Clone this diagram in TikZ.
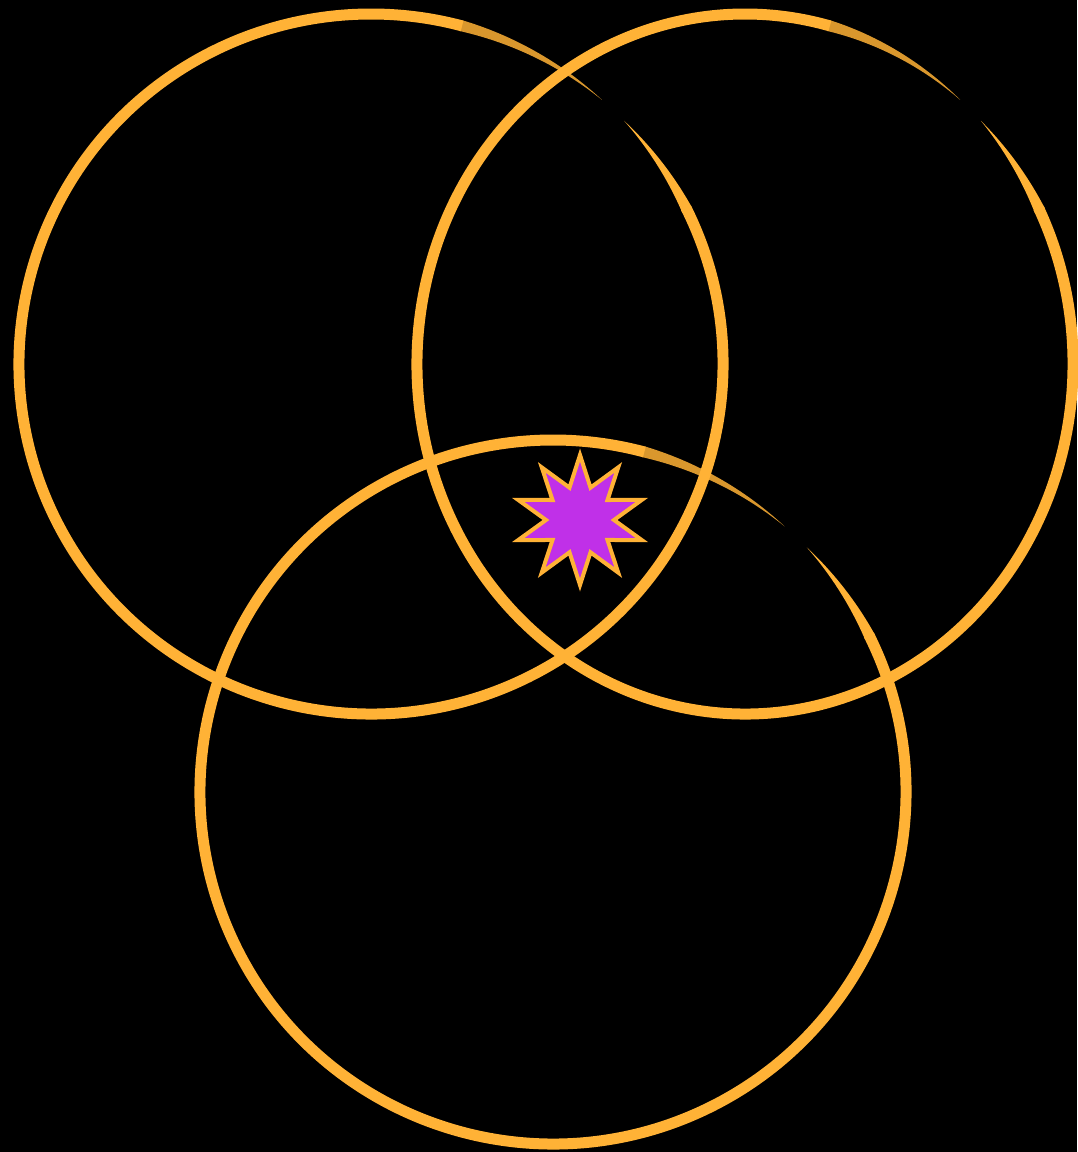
\documentclass[tikz,border=0pt]{standalone}
\usepackage{xcolor}
\definecolor{brushorange}{RGB}{255,178,54}
\definecolor{starpurple}{RGB}{192,48,232}
\tikzset{
  brush/.style={draw=brushorange,line width=5.5pt,line cap=butt},
  brushtip/.style={fill=brushorange},
  burst/.style={fill=starpurple,draw=brushorange,line width=2pt,line join=miter,miter limit=20}
}
% one hand-drawn ring: centre name, x radius, y radius
\newcommand{\brushring}[3]{%
  % tapered start of the stroke
  \fill[brushtip,shift={(#1)}]
    plot[domain=44:26,samples=24,variable=\t]
      ({(#2+5.5*(44-\t)/18)*cos(\t)},{(#3+5.5*(44-\t)/18)*sin(\t)})
    -- plot[domain=26:44,samples=24,variable=\t]
      ({(#2-5.5*(44-\t)/18)*cos(\t)},{(#3-5.5*(44-\t)/18)*sin(\t)}) -- cycle;
  \draw[brush] (#1) ++(26.5:#2 and #3)
    arc[start angle=26.5,end angle=-285,x radius=#2,y radius=#3];
  % fading end of the stroke
  \fill[brushtip,opacity=0.85,shift={(#1)}]
    plot[domain=-284.8:-311,samples=30,variable=\t]
      ({(#2+5.5*(\t+311)/26)*cos(\t)},{(#3+5.5*(\t+311)/26)*sin(\t)})
    -- plot[domain=-311:-284.8,samples=30,variable=\t]
      ({(#2-5.5*(\t+311)/26)*cos(\t)},{(#3-5.5*(\t+311)/26)*sin(\t)}) -- cycle;
}
\begin{document}
\begin{tikzpicture}[x=0.5pt,y=0.5pt]
\fill[black] (0,0) rectangle (1077,1152);
\useasboundingbox (0,0) rectangle (1077,1152);
\coordinate (left) at (371,788);
\coordinate (right) at (745,788);
\coordinate (bottom) at (553,360);
\coordinate (spark) at (580,632);
\brushring{left}{352}{350}
\brushring{right}{328}{350}
\brushring{bottom}{353}{352}
% ten-pointed star
\filldraw[burst,shift={(spark)}] (90:65)
  \foreach \i in {0,...,9}{ -- ({108+36*\i}:34) -- ({126+36*\i}:65) } -- cycle;
\end{tikzpicture}
\end{document}
